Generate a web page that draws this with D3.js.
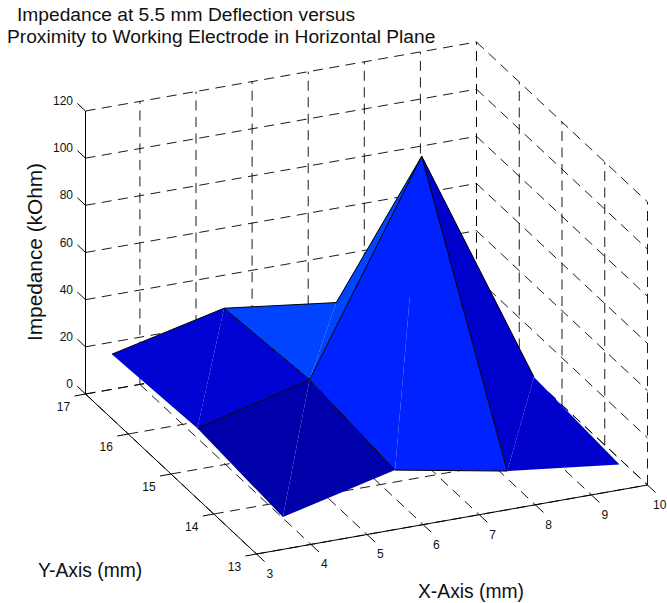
<!DOCTYPE html>
<html>
<head>
<meta charset="utf-8">
<script src="https://cdn.jsdelivr.net/npm/d3@7"></script>
<style>
  html, body { margin: 0; padding: 0; background: #fff; }
  text { font-family: "Liberation Sans", Arial, sans-serif; fill: #111; }
</style>
</head>
<body>
<div id="container"></div>
<script>
var width = 667,
    height = 603;

// surface samples, kOhm
var xValues = [3.5, 5.5, 7.5, 9.5];
var yValues = [17, 15, 13];
var zRow17 = [14.9, 26, 20, 15];
var zRow15 = [17.4, 29.6, 116, 14];
var zRow13 = [13.7, 25.2, 16.4, 10.8];
var zRows = [zRow17, zRow15, zRow13];

var xTicks = [3, 4, 5, 6, 7, 8, 9, 10];
var yTicks = [13, 14, 15, 16, 17];
var zTicks = [0, 20, 40, 60, 80, 100, 120];

var svg = d3.select("#container")
            .append("svg")
            .attr("width", width)
            .attr("height", height);

// the box starts just past 3 on the x axis, the "3" tick sits on its corner
var xLow = 3.03;

// oblique view: each data axis moves the point on screen by its own scale
var origin = [85.5, 394];
var x_px = d3.scaleLinear().domain([xLow, 10]).range([0, 391]).clamp(true),
    x_py = d3.scaleLinear().domain([xLow, 10]).range([0, -69]).clamp(true),
    y_px = d3.scaleLinear().domain([17, 13]).range([0, 171]),
    y_py = d3.scaleLinear().domain([17, 13]).range([0, 160]),
    z_py = d3.scaleLinear().domain([0, 120]).range([0, -283]);

function project(x, y, z) {
  return [origin[0] + x_px(x) + y_px(y), origin[1] + x_py(x) + y_py(y) + z_py(z)];
}

// patch colour comes from its low-x, low-y corner
var color = d3.scaleLinear()
              .domain([13.7, 16.4, 25.2, 29.6])
              .range(["#0000aa", "#0000cc", "#0022ff", "#0044ff"])
              .clamp(true);

var line = d3.line();

// grid on the two walls and the floor
var grid = svg.append("g")
              .attr("fill", "none")
              .attr("stroke", "#000")
              .attr("stroke-width", 0.9)
              .attr("stroke-dasharray", "10,6.5");

function gridLine(a, b) {
  grid.append("path").attr("d", line([a, b]));
}

zTicks.forEach(function(z) {
  gridLine(project(3, 17, z), project(10, 17, z));
  gridLine(project(10, 17, z), project(10, 13, z));
});
xTicks.forEach(function(x) {
  gridLine(project(x, 17, 0), project(x, 17, 120));
  gridLine(project(x, 17, 0), project(x, 13, 0));
});
yTicks.forEach(function(y) {
  gridLine(project(3, y, 0), project(10, y, 0));
  gridLine(project(10, y, 0), project(10, y, 120));
});

// solid axes
var axes = svg.append("g")
              .attr("fill", "none")
              .attr("stroke", "#000")
              .attr("stroke-width", 1);

function axisLine(a, b) {
  axes.append("path").attr("d", line([a, b]));
}

axisLine(project(3, 17, 0), project(3, 17, 120));
axisLine(project(3, 17, 0), project(3, 13, 0));
axisLine(project(3, 13, 0), project(10, 13, 0));

// ticks
zTicks.forEach(function(z) {
  axisLine(project(3, 17, z), project(3, 17.19, z));
  var p = project(3, 17, z);
  svg.append("text").attr("x", p[0] - 12.5).attr("y", p[1] - 6)
     .attr("text-anchor", "end").attr("font-size", 12).text(z);
});
yTicks.forEach(function(y) {
  var p = project(3, y, 0);
  axisLine(p, [p[0] - 11, p[1] + 2]);
  svg.append("text").attr("x", p[0] - 22).attr("y", p[1] + 17)
     .attr("text-anchor", "middle").attr("font-size", 12).text(y);
});
xTicks.forEach(function(x) {
  axisLine(project(x, 13, 0), project(x, 12.81, 0));
  var p = project(x, 13, 0);
  // the last label sits against the page edge, pull it in so it is not cut
  svg.append("text").attr("x", Math.min(p[0] + 10, 653)).attr("y", p[1] + 24)
     .attr("font-size", 12).text(x);
});

// surface, painted from the far corner forwards
var surface = svg.append("g");

function vertex(i, j) {
  return project(xValues[i], yValues[j], zRows[j][i]);
}

function edge(a, b) {
  surface.append("path")
         .attr("d", line([a, b]))
         .attr("fill", "none")
         .attr("stroke", "#000")
         .attr("stroke-width", 1);
}

for (var j = 0; j < yValues.length - 1; j++) {
  for (var i = xValues.length - 2; i >= 0; i--) {
    var backLeft = vertex(i, j),
        backRight = vertex(i + 1, j),
        frontRight = vertex(i + 1, j + 1),
        frontLeft = vertex(i, j + 1),
        fill = color(zRows[j + 1][i]);

    // two triangles, so the seam on the diagonal shows as in the picture
    [[backLeft, backRight, frontLeft], [backRight, frontRight, frontLeft]].forEach(function(tri) {
      surface.append("path")
             .attr("d", line(tri) + "Z")
             .attr("fill", fill);
    });

    edge(backLeft, backRight);
    if (i < xValues.length - 2) edge(backRight, frontRight);
    if (i === 1 && j === 1) edge(frontLeft, frontRight);
  }
}

// titles and axis names
svg.append("text").attr("x", 17).attr("y", 21).attr("font-size", 19.2)
   .text("Impedance at 5.5 mm Deflection versus");
svg.append("text").attr("x", 7).attr("y", 43).attr("font-size", 19.2)
   .text("Proximity to Working Electrode in Horizontal Plane");
svg.append("text").attr("transform", "translate(42,252) rotate(-90)")
   .attr("text-anchor", "middle").attr("font-size", 20.8)
   .text("Impedance (kOhm)");
svg.append("text").attr("x", 38).attr("y", 577).attr("font-size", 19.3)
   .text("Y-Axis (mm)");
svg.append("text").attr("x", 418).attr("y", 598).attr("font-size", 19.3)
   .text("X-Axis (mm)");
</script>
</body>
</html>
